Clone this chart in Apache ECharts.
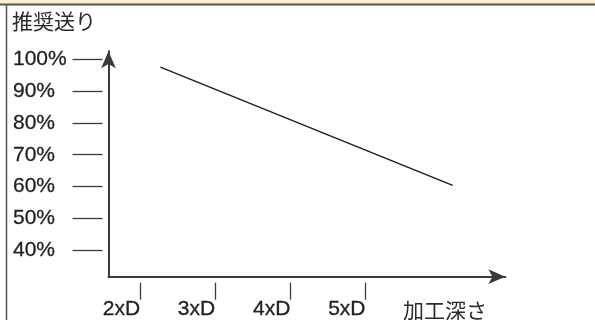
<!DOCTYPE html>
<html>
<head>
<meta charset="utf-8">
<script src="https://cdn.jsdelivr.net/npm/echarts@6/dist/echarts.min.js"></script>
<style>
  html, body { margin: 0; padding: 0; background: #fff; }
  #chart { width: 595px; height: 320px; }
</style>
</head>
<body>
<div id="chart"></div>
<script>
// Depth steps (multiples of the drill diameter) and their labels
const depthTicks = [2, 3, 4, 5];
const depthLabels = ['2xD', '3xD', '4xD', '5xD'];

// Recommended feed rate ticks, in percent
const feedTicks = [40, 50, 60, 70, 80, 90, 100];

// Feed-rate line: depth (xD) and recommended feed (%)
const lineDepth = [2.27, 6.16];
const lineFeed = [97.5, 60.4];

const yTitle = '推奨送り';
const xTitle = '加工深さ';

const xMin = 1.58, xMax = 6.86;
const yMin = 31.7, yMax = 102.5;

const textColor = '#231f20';
const axisColor = '#3a3a3a';
const latinFont = '"Liberation Sans", Arial, sans-serif';
const cjkFont = '"Noto Sans CJK JP", sans-serif';

const latinLabel = {
  fontFamily: latinFont, fontSize: 21, color: textColor,
  textBorderColor: textColor, textBorderWidth: 0.3
};
const cjkTitle = {
  fontFamily: cjkFont, fontSize: 21, fontWeight: 'normal', color: '#2b2b2b'
};

const chart = echarts.init(document.getElementById('chart'), null, { renderer: 'canvas' });

chart.setOption({
  animation: false,
  backgroundColor: '#ffffff',
  grid: { left: 108.5, top: 51.3, width: 396.8, height: 226.2, containLabel: false },
  title: [
    { text: yTitle, left: 12, top: 10.5, padding: 0, textStyle: cjkTitle },
    { text: xTitle, left: 403, top: 299.5, padding: 0, textStyle: cjkTitle }
  ],
  xAxis: [
    {
      type: 'value', min: xMin, max: xMax, position: 'bottom',
      axisLine: { show: true, onZero: false, symbol: ['none', 'arrow'], symbolSize: [11, 17],
        lineStyle: { color: axisColor, width: 2 } },
      axisTick: { show: false }, axisLabel: { show: false }, splitLine: { show: false }
    },
    {
      type: 'value', min: xMin, max: xMax, position: 'bottom', offset: 6,
      axisLine: { show: false, onZero: false },
      axisTick: { show: true, length: 17, customValues: depthTicks,
        lineStyle: { color: axisColor, width: 1.3 } },
      axisLabel: Object.assign({
        show: true, customValues: depthTicks, margin: 16.2, align: 'right',
        formatter: v => depthLabels[depthTicks.indexOf(v)] || ''
      }, latinLabel),
      splitLine: { show: false }
    }
  ],
  yAxis: [
    {
      type: 'value', min: yMin, max: yMax, position: 'left',
      axisLine: { show: true, onZero: false, symbol: ['none', 'arrow'], symbolSize: [11, 17],
        lineStyle: { color: axisColor, width: 2 } },
      axisTick: { show: false }, axisLabel: { show: false }, splitLine: { show: false }
    },
    {
      type: 'value', min: yMin, max: yMax, position: 'left', offset: 6,
      axisLine: { show: false, onZero: false },
      axisTick: { show: true, length: 30, customValues: feedTicks,
        lineStyle: { color: axisColor, width: 1.3 } },
      axisLabel: Object.assign({
        show: true, customValues: feedTicks, margin: 89.5, align: 'left',
        padding: [3, 0, 0, 0],
        formatter: v => v + '%'
      }, latinLabel),
      splitLine: { show: false }
    }
  ],
  graphic: [
    // header strip of the table cell
    { type: 'rect', silent: true, shape: { x: 0, y: 0, width: 595, height: 4 },
      style: { fill: '#fcf0cc' } },
    { type: 'line', silent: true, shape: { x1: 0, y1: 4.5, x2: 595, y2: 4.5 },
      style: { stroke: '#555555', lineWidth: 2 } },
    // left border of the cell
    { type: 'line', silent: true, shape: { x1: 6.5, y1: 4.5, x2: 6.5, y2: 320 },
      style: { stroke: '#555555', lineWidth: 1.5 } }
  ],
  series: [
    {
      type: 'line', xAxisIndex: 0, yAxisIndex: 0,
      symbol: 'none', silent: true,
      lineStyle: { color: '#1a1a1a', width: 1.3 },
      data: lineDepth.map((d, i) => [d, lineFeed[i]])
    }
  ]
});
</script>
</body>
</html>
